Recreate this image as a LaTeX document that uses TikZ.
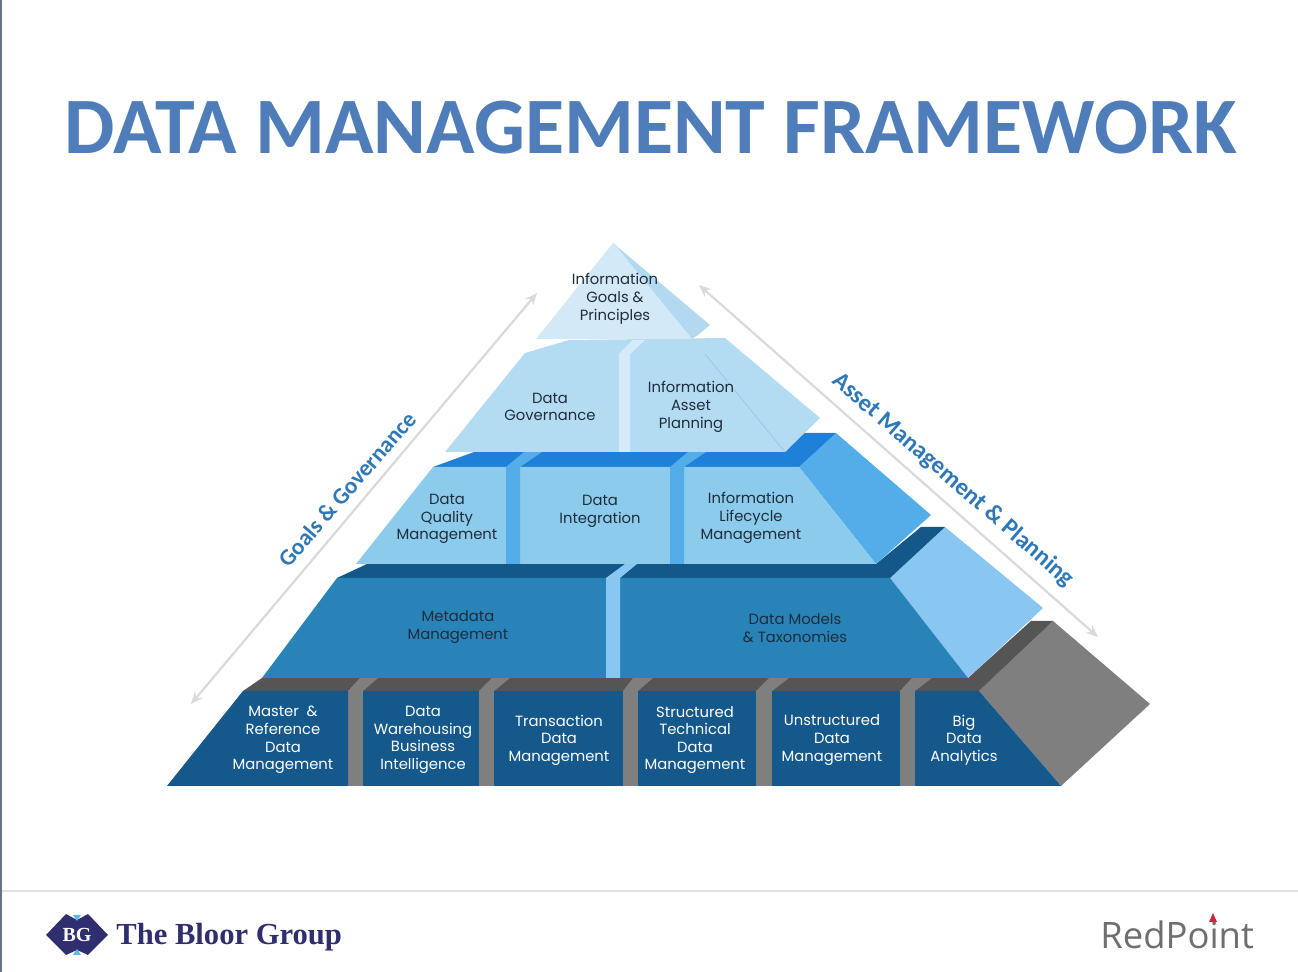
\documentclass[tikz,border=0pt]{standalone}
\usepackage{fontspec}
\setmainfont{Poppins}
\newfontfamily\titlefont{Carlito}
\newfontfamily\bloorfont{Liberation Serif}
\newfontfamily\pointfont{Open Sans}
\usetikzlibrary{arrows.meta}
\definecolor{titleblue}{HTML}{4F7DB9}
\definecolor{sideblue}{HTML}{2F78B7}
\definecolor{edgegray}{HTML}{667585}
\definecolor{rulegray}{HTML}{E2E2E2}
\definecolor{arrowgray}{HTML}{DADADA}
\definecolor{basefront}{HTML}{14588C}
\definecolor{basetop}{HTML}{555555}
\definecolor{baseside}{HTML}{7F7F7F}
\definecolor{metafront}{HTML}{2783B8}
\definecolor{metatop}{HTML}{14588A}
\definecolor{metaside}{HTML}{8AC6F2}
\definecolor{corefront}{HTML}{8CCBEC}
\definecolor{coretop}{HTML}{1E80D8}
\definecolor{coreside}{HTML}{52ADE9}
\definecolor{planfront}{HTML}{B3DCF3}
\definecolor{plangap}{HTML}{D6EBF9}
\definecolor{planline}{HTML}{8FC6EA}
\definecolor{peakfront}{HTML}{D4E9F7}
\definecolor{peakside}{HTML}{B3D9F0}
\definecolor{darktext}{HTML}{1F2D3A}
\definecolor{bloorblue}{HTML}{2F2F6F}
\definecolor{bloorlight}{HTML}{5CB8E6}
\definecolor{pointgray}{HTML}{6E6E6E}
\definecolor{pointred}{HTML}{C8283A}

\begin{document}
\begin{tikzpicture}[
      x=0.5pt, y=-0.5pt,
      every node/.style={inner sep=0pt, align=center},
      tierlabel/.style={text=darktext, font=\fontsize{7.4}{8.9}\selectfont},
      baselabel/.style={text=white, font=\fontsize{7.4}{8.8}\selectfont},
      sidelabel/.style={text=sideblue, font=\titlefont\bfseries\fontsize{#1}{16}\selectfont},
      sidearrow/.style={{Stealth[length=6pt,width=5pt]}-{Stealth[length=6pt,width=5pt]}, arrowgray, line width=1.1pt},
    ]
    \useasboundingbox (0,0) rectangle (1298,972);

    \fill[edgegray] (0,0) rectangle (2,972);
    \fill[rulegray] (2,890) rectangle (1298,892);

    \node[text=titleblue, font=\titlefont\bfseries\fontsize{40}{48}\selectfont] (title) at (651,128) {DATA MANAGEMENT FRAMEWORK};

    \fill[baseside] (979,691) -- (1053,621) -- (1150,704) -- (1061,786) -- cycle;
    \fill[basetop] (243,691) -- (262,678) -- (968,678) -- (1031,621) -- (1053,621) -- (979,691) -- cycle;
    \fill[baseside] (348,691) -- (360,678) -- (378,678) -- (363,691) -- (363,786) -- (348,786) -- cycle;
    \fill[baseside] (479,691) -- (492,678) -- (510,678) -- (494,691) -- (494,786) -- (479,786) -- cycle;
    \fill[baseside] (623,691) -- (633,678) -- (653,678) -- (638,691) -- (638,786) -- (623,786) -- cycle;
    \fill[baseside] (756,691) -- (769,678) -- (789,678) -- (772,691) -- (772,786) -- (756,786) -- cycle;
    \fill[baseside] (900,691) -- (912,678) -- (932,678) -- (915,691) -- (915,786) -- (900,786) -- cycle;
    \fill[basefront] (167,786) -- (243,691) -- (348,691) -- (348,786) -- cycle;
    \fill[basefront] (363,691) rectangle (479,786);
    \fill[basefront] (494,691) rectangle (623,786);
    \fill[basefront] (638,691) rectangle (756,786);
    \fill[basefront] (772,691) rectangle (900,786);
    \fill[basefront] (915,691) -- (979,691) -- (1061,786) -- (915,786) -- cycle;

    \fill[metaside] (890,578) -- (945,527) -- (1043,608) -- (968,678) -- cycle;
    \fill[metatop] (337,578) -- (367,564) -- (876,564) -- (921,527) -- (945,527) -- (890,578) -- cycle;
    \fill[metafront] (262,678) -- (337,578) -- (890,578) -- (968,678) -- cycle;
    \fill[metaside] (606,678) -- (606,578) -- (625,564) -- (637,564) -- (620,578) -- (620,678) -- cycle;

    \fill[coreside] (799,467) -- (836,433) -- (931,515) -- (876,564) -- cycle;
    \fill[coretop] (433,467) -- (474,452) -- (785,452) -- (803,433) -- (836,433) -- (799,467) -- cycle;
    \fill[corefront] (356,564) -- (433,467) -- (799,467) -- (876,564) -- cycle;
    \fill[coreside] (506,564) -- (506,467) -- (524,452) -- (542,452) -- (520,467) -- (520,564) -- cycle;
    \fill[coreside] (670,564) -- (670,467) -- (688,452) -- (706,452) -- (684,467) -- (684,564) -- cycle;

    \fill[planfront] (445,452) -- (525,353) -- (569,340) -- (725,338) -- (820,418) -- (785,452) -- cycle;
    \fill[plangap] (619,452) -- (619,354) -- (633,340) -- (645,340) -- (630,354) -- (630,452) -- cycle;
    \draw[planline, line width=0.3pt] (705,354) -- (785,452);

    \fill[peakside] (613,243) -- (710,325) -- (698,335) -- (692,339) -- cycle;
    \fill[peakfront] (613,243) -- (536,339) -- (692,339) -- cycle;

    \node[tierlabel] (goals) at (615,299) {Information\\Goals \&\\Principles};
    \node[tierlabel] (governance) at (550,407) {Data\\Governance};
    \node[tierlabel] (planning) at (691,407) {Information\\Asset\\Planning};
    \node[tierlabel] (quality) at (447,519) {Data\\Quality\\Management};
    \node[tierlabel] (integration) at (600,511) {Data\\Integration};
    \node[tierlabel] (lifecycle) at (751,518) {Information\\Lifecycle\\Management};
    \node[tierlabel] (metadata) at (458,627) {Metadata\\Management};
    \node[tierlabel] (models) at (795,628) {Data Models\\\& Taxonomies};
    \node[baselabel] (master) at (283,740) {Master\ \ \&\\Reference\\Data\\Management};
    \node[baselabel] (warehouse) at (423,740) {Data\\Warehousing\\Business\\Intelligence};
    \node[baselabel] (transaction) at (559,740) {Transaction\\Data\\Management};
    \node[baselabel] (structured) at (695,740) {Structured\\Technical\\Data\\Management};
    \node[baselabel] (unstructured) at (832,740) {Unstructured\\Data\\Management};
    \node[baselabel] (bigdata) at (964,740) {Big\\Data\\Analytics};

    \coordinate (leftlow) at (191,704);
    \coordinate (lefthigh) at (537,293);
    \coordinate (righthigh) at (699,285);
    \coordinate (rightlow) at (1098,637);
    \draw[sidearrow] (leftlow) -- (lefthigh);
    \draw[sidearrow] (righthigh) -- (rightlow);
    \node[sidelabel=11.6, rotate=49] (goalside) at (347,489) {Goals \& Governance};
    \node[sidelabel=12.2, rotate=-41] (assetside) at (953,480) {Asset Management \& Planning};

    \fill[bloorblue] (46,935) -- (66,914) -- (77,920) -- (88,914) -- (108,935) -- (88,955) -- (77,950) -- (66,955) -- cycle;
    \fill[bloorlight] (73,915) -- (81,915) -- (77,921) -- cycle;
    \fill[bloorlight] (73,955) -- (81,955) -- (77,949) -- cycle;
    \node[text=white, font=\bloorfont\bfseries\fontsize{10}{12}\selectfont] (bglogo) at (77,935) {BG};
    \node[text=bloorblue, font=\bloorfont\bfseries\fontsize{15.3}{18}\selectfont, anchor=west] (bloor) at (116,937) {The Bloor Group};

    \node[text=pointgray, font=\pointfont\fontsize{18.2}{22}\selectfont, anchor=west] (redpoint) at (1100,935) {RedPoint};
    \fill[pointred] (1213,913) -- (1217,922) -- (1209,922) -- cycle;
  \end{tikzpicture}
\end{document}
